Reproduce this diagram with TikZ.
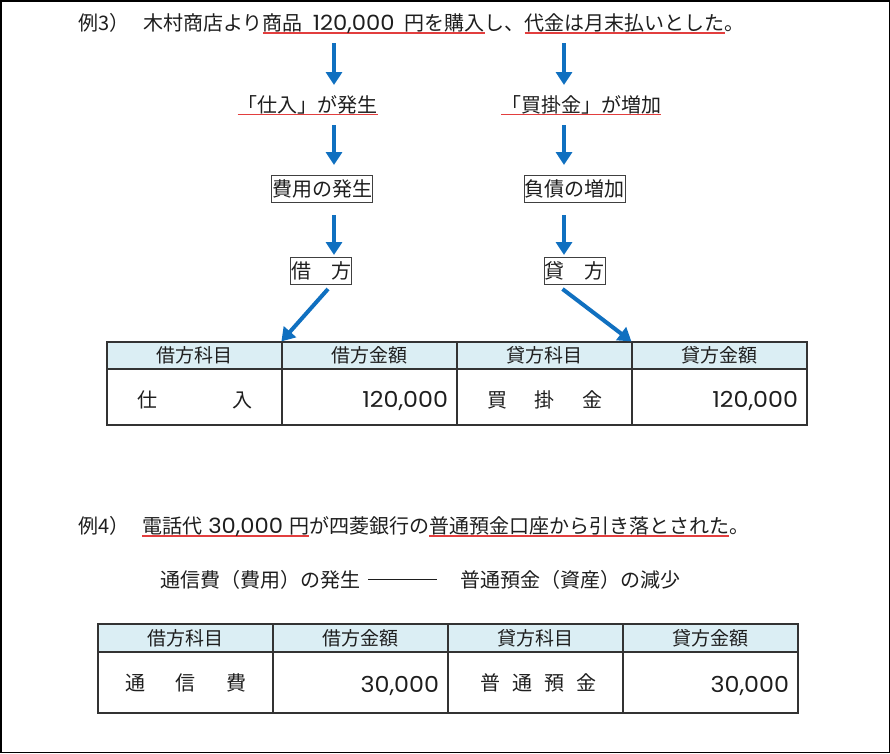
\documentclass[tikz,border=0pt]{standalone}
\usepackage{fontspec}
\setmainfont{Noto Sans CJK JP}
\newfontfamily\numf{Poppins}[FakeStretch=1.08]
\usetikzlibrary{arrows.meta,calc}
\definecolor{arrowblue}{RGB}{16,112,192}
\definecolor{ulred}{RGB}{226,62,62}
\definecolor{hdrblue}{RGB}{219,238,244}
\definecolor{ink}{RGB}{30,30,30}
\newcommand\redul[1]{\setbox0\hbox{#1}\rlap{\color{ulred}\rule[-3pt]{\wd0}{1.2pt}}\box0}
\tikzset{
  ttl/.style={anchor=base west, inner sep=0pt, text=ink, font=\fontsize{20}{24}\selectfont},
  lbl/.style={anchor=base, inner sep=0pt, text=ink, font=\fontsize{20}{24}\selectfont},
  boxed/.style={draw=black!75, line width=1pt, inner xsep=0.5pt, inner ysep=0pt, minimum height=27pt, text=ink, font=\fontsize{20}{24}\selectfont},
  barrow/.style={draw=arrowblue, line width=4pt, -{Triangle[width=16pt,length=13pt]}},
  hcell/.style={draw=black!80, fill=hdrblue, line width=1.2pt, minimum width=175pt, inner sep=0pt, text=ink, font=\fontsize{19}{22}\selectfont},
  bcell/.style={draw=black!80, line width=1.2pt, minimum width=175pt, inner sep=0pt, text=ink, font=\fontsize{20}{24}\selectfont},
  numcell/.style={bcell, align=right, text width=157pt, text depth=0pt, font=\numf\fontsize{22}{24}\selectfont},
}
\begin{document}
\begin{tikzpicture}[x=1pt,y=-1pt]
\useasboundingbox (0,0) rectangle (890,753);
\draw[line width=1.5pt] (0.75,0.75) rectangle (889.25,752.25);

% Example 3
\node[ttl] (t3) at (78,30.5) {例3）\hspace{14pt}木村商店より\redul{商品\hspace{10pt}{\numf\fontsize{21}{24}\selectfont 120,000}\hspace{10pt}円を購入}し、\redul{代金は月末払いとした}。};
\coordinate (xL) at (334,0);
\coordinate (xR) at (564,0);

\node[lbl] (l1) at (307.5,112) {\redul{「仕入」が発生}};
\node[lbl] (l2) at (581,112) {\redul{「買掛金」が増加}};

\node[boxed] (b1) at (322,188.5) {費用の発生};
\node[boxed] (b2) at (574.5,188.5) {負債の増加};
\node[boxed] (b3) at (321,271) {借　方};
\node[boxed] (b4) at (574.5,271) {貸　方};

\draw[barrow] ([yshift=-12.5pt]t3.base -| xL) -- ([yshift=27pt]l1.base -| xL);
\draw[barrow] ([yshift=-12.5pt]t3.base -| xR) -- ([yshift=27pt]l2.base -| xR);
\draw[barrow] ([yshift=-13pt]l1.base -| xL) -- ([yshift=9.5pt]b1.north -| xL);
\draw[barrow] ([yshift=-13pt]l2.base -| xR) -- ([yshift=9.5pt]b2.north -| xR);
\draw[barrow] ([yshift=-12.5pt]b1.south -| xL) -- ([yshift=2pt]b3.north -| xL);
\draw[barrow] ([yshift=-12.5pt]b2.south -| xR) -- ([yshift=2pt]b4.north -| xR);

% Table 1
\node[hcell, minimum height=27pt] (h11) at (194.5,355.5) {借方科目};
\node[hcell, minimum height=27pt] (h12) at (369.5,355.5) {借方金額};
\node[hcell, minimum height=27pt] (h13) at (544.5,355.5) {貸方科目};
\node[hcell, minimum height=27pt] (h14) at (719.5,355.5) {貸方金額};
\node[bcell, minimum height=56pt, text height=21.2pt, text depth=0pt] (c11) at (194.5,397) {\makebox[115pt][s]{仕\hfill 入}};
\node[numcell, minimum height=56pt, text height=20pt] (c12) at (369.5,397) {120,000};
\node[bcell, minimum height=56pt, text height=21.2pt, text depth=0pt] (c13) at (544.5,397) {\makebox[115pt][s]{買\hfill 掛\hfill 金}};
\node[numcell, minimum height=56pt, text height=20pt] (c14) at (719.5,397) {120,000};

\draw[barrow] ($(b3.south)+(7,4)$) -- (h12.north west);
\draw[barrow] ($(b4.south)+(-12,4)$) -- (h14.north west);

% Example 4
\node[ttl] (t4) at (78,533.5) {例4）\hspace{13pt}\redul{電話代\hspace{6pt}{\numf\fontsize{21}{24}\selectfont 30,000}\hspace{6pt}円}が四菱銀行の\redul{普通預金口座から引き落とされた}。};
\node[ttl] (m4) at (160,587) {通信費（費用）の発生\hspace{8pt}\rule[7.5pt]{69pt}{1pt}\hspace{23pt}普通預金（資産）の減少};

% Table 2
\node[hcell, minimum height=28pt] (h21) at (185.5,638) {借方科目};
\node[hcell, minimum height=28pt] (h22) at (360.5,638) {借方金額};
\node[hcell, minimum height=28pt] (h23) at (535.5,638) {貸方科目};
\node[hcell, minimum height=28pt] (h24) at (710.5,638) {貸方金額};
\node[bcell, minimum height=61pt] (c21) at (185.5,682.5) {\makebox[121pt][s]{通\hfill 信\hfill 費}};
\node[numcell, minimum height=61pt, text height=19pt] (c22) at (360.5,682.5) {30,000};
\node[bcell, minimum height=61pt] (c23) at (535.5,682.5) {\hspace{6pt}\makebox[116pt][s]{普\hfill 通\hfill 預\hfill 金}};
\node[numcell, minimum height=61pt, text height=19pt] (c24) at (710.5,682.5) {30,000};
\end{tikzpicture}
\end{document}
